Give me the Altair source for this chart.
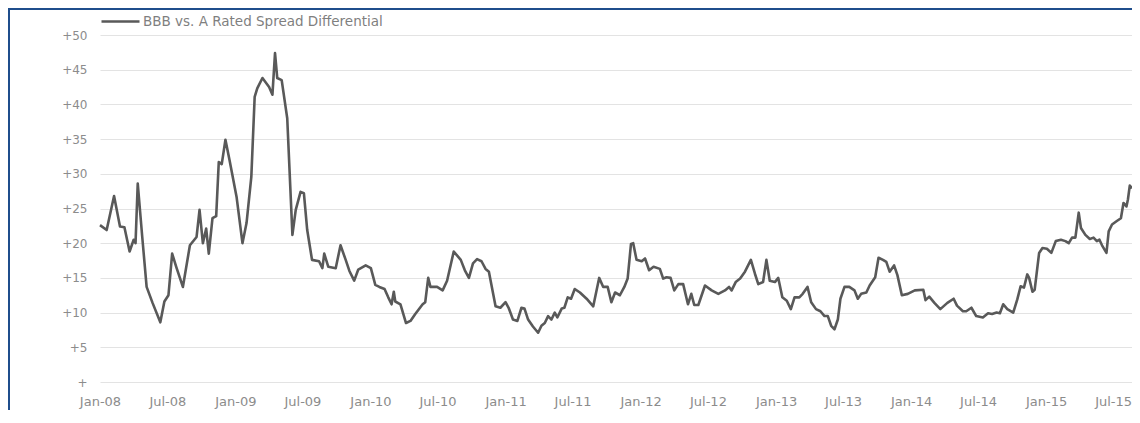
import altair as alt
import pandas as pd

series_name = "BBB vs. A Rated Spread Differential"

dates = [
    "2008-01-01", "2008-01-19", "2008-02-08", "2008-02-24", "2008-03-07", "2008-03-21", "2008-04-01", "2008-04-06",
    "2008-04-12", "2008-04-24", "2008-05-06", "2008-05-22", "2008-06-12", "2008-06-23", "2008-07-04", "2008-07-14",
    "2008-07-25", "2008-08-12", "2008-08-31", "2008-09-18", "2008-09-26", "2008-10-05", "2008-10-14", "2008-10-21",
    "2008-10-31", "2008-11-10", "2008-11-17", "2008-11-25", "2008-12-05", "2008-12-16",
    "2009-01-04", "2009-01-20", "2009-01-31", "2009-02-13", "2009-02-22", "2009-03-01", "2009-03-15", "2009-04-02",
    "2009-04-11", "2009-04-18", "2009-04-24", "2009-05-06", "2009-05-21", "2009-06-04", "2009-06-13", "2009-06-26",
    "2009-07-05", "2009-07-14", "2009-07-27", "2009-08-15", "2009-08-24", "2009-08-29", "2009-09-09", "2009-09-29",
    "2009-10-12", "2009-10-26", "2009-11-05", "2009-11-18", "2009-11-29", "2009-12-19",
    "2010-01-02", "2010-01-14", "2010-01-25", "2010-02-08", "2010-02-18", "2010-02-27", "2010-03-05", "2010-03-09",
    "2010-03-23", "2010-04-07", "2010-04-19", "2010-05-02", "2010-05-22", "2010-05-29", "2010-06-06", "2010-06-12",
    "2010-06-30", "2010-07-15", "2010-07-27", "2010-08-14", "2010-09-02", "2010-09-13", "2010-09-24", "2010-10-05",
    "2010-10-16", "2010-10-28", "2010-11-08", "2010-11-17", "2010-12-05", "2010-12-18",
    "2011-01-01", "2011-01-10", "2011-01-21", "2011-02-02", "2011-02-13", "2011-02-21", "2011-03-03", "2011-03-16",
    "2011-03-30", "2011-04-08", "2011-04-17", "2011-04-26", "2011-05-05", "2011-05-14", "2011-05-21", "2011-06-02",
    "2011-06-09", "2011-06-18", "2011-06-27", "2011-07-07", "2011-07-21", "2011-08-08", "2011-08-26", "2011-09-11",
    "2011-09-22", "2011-10-04", "2011-10-14", "2011-10-24", "2011-11-06", "2011-11-18", "2011-11-27", "2011-12-06",
    "2011-12-12", "2011-12-21",
    "2012-01-04", "2012-01-13", "2012-01-24", "2012-02-05", "2012-02-22", "2012-03-02", "2012-03-11", "2012-03-22",
    "2012-04-01", "2012-04-12", "2012-04-25", "2012-05-08", "2012-05-17", "2012-05-25", "2012-06-05", "2012-06-23",
    "2012-07-11", "2012-07-29", "2012-08-16", "2012-08-27", "2012-09-03", "2012-09-14", "2012-09-26", "2012-10-09",
    "2012-10-25", "2012-11-05", "2012-11-14", "2012-11-27", "2012-12-06", "2012-12-15", "2012-12-29",
    "2013-01-07", "2013-01-18", "2013-01-30", "2013-02-10", "2013-02-20", "2013-03-05", "2013-03-14", "2013-03-27",
    "2013-04-06", "2013-04-19", "2013-05-01", "2013-05-12", "2013-05-21", "2013-05-30", "2013-06-08", "2013-06-17",
    "2013-06-24", "2013-07-05", "2013-07-18", "2013-08-01", "2013-08-10", "2013-08-19", "2013-09-02", "2013-09-11",
    "2013-09-26", "2013-10-05", "2013-10-17", "2013-10-26", "2013-11-04", "2013-11-16", "2013-11-25", "2013-12-07",
    "2013-12-23",
    "2014-01-11", "2014-02-03", "2014-02-09", "2014-02-19", "2014-03-05", "2014-03-21", "2014-04-09", "2014-04-26",
    "2014-05-05", "2014-05-21", "2014-05-30", "2014-06-13", "2014-06-26", "2014-07-14", "2014-07-28", "2014-08-08",
    "2014-08-20", "2014-08-29", "2014-09-07", "2014-09-18", "2014-10-04", "2014-10-15", "2014-10-24", "2014-11-02",
    "2014-11-11", "2014-11-16", "2014-11-25", "2014-12-01", "2014-12-13", "2014-12-22",
    "2015-01-03", "2015-01-15", "2015-01-27", "2015-02-10", "2015-02-22", "2015-03-03", "2015-03-12", "2015-03-21",
    "2015-03-30", "2015-04-05", "2015-04-17", "2015-04-29", "2015-05-09", "2015-05-18", "2015-05-25", "2015-06-01",
    "2015-06-13", "2015-06-19", "2015-06-28", "2015-07-11", "2015-07-22", "2015-07-29", "2015-08-06", "2015-08-10",
    "2015-08-15", "2015-08-21",
]

spread = [
    22.6, 21.9, 26.8, 22.4, 22.3, 18.8, 20.5, 20.0,
    28.6, 21.0, 13.7, 11.4, 8.6, 11.6, 12.5, 18.5,
    16.6, 13.7, 19.7, 20.9, 24.8, 20.0, 22.1, 18.5,
    23.6, 23.9, 31.7, 31.4, 34.9, 32.0,
    26.7, 20.0, 22.9, 29.6, 41.1, 42.3, 43.8, 42.5,
    41.4, 47.4, 43.8, 43.5, 38.0, 21.2, 24.8, 27.4,
    27.2, 21.9, 17.6, 17.4, 16.4, 18.5, 16.6, 16.4,
    19.7, 17.6, 16.0, 14.6, 16.2, 16.8,
    16.4, 14.0, 13.7, 13.4, 12.2, 11.2, 13.0, 11.6,
    11.2, 8.5, 8.8, 9.8, 11.2, 11.5, 15.0, 13.7,
    13.7, 13.2, 14.6, 18.8, 17.6, 16.1, 15.0, 17.1,
    17.7, 17.4, 16.3, 15.9, 10.9, 10.7,
    11.5, 10.6, 9.0, 8.8, 10.7, 10.6, 9.0, 8.0,
    7.1, 8.1, 8.5, 9.5, 9.0, 10.0, 9.3, 10.6,
    10.7, 12.2, 12.0, 13.4, 12.9, 12.0, 10.9, 15.0,
    13.7, 13.7, 11.5, 12.9, 12.5, 13.7, 14.9, 19.9,
    20.0, 17.6,
    17.4, 17.8, 16.1, 16.6, 16.3, 14.9, 15.1, 15.0,
    13.2, 14.1, 14.1, 11.2, 12.7, 11.1, 11.1, 13.9,
    13.2, 12.7, 13.2, 13.7, 13.2, 14.4, 14.9, 15.9,
    17.6, 15.6, 14.1, 14.4, 17.6, 14.6, 14.4,
    15.0, 12.2, 11.7, 10.5, 12.2, 12.2, 12.7, 13.7,
    11.5, 10.5, 10.2, 9.5, 9.5, 8.1, 7.6, 9.0,
    12.0, 13.7, 13.7, 13.2, 12.0, 12.7, 12.9, 13.9,
    15.1, 17.9, 17.6, 17.3, 15.9, 16.8, 15.4, 12.5,
    12.7,
    13.2, 13.3, 11.8, 12.3, 11.4, 10.5, 11.4, 12.0,
    11.0, 10.2, 10.2, 10.7, 9.5, 9.3, 9.9, 9.8,
    10.0, 9.9, 11.2, 10.5, 10.0, 11.9, 13.8, 13.6,
    15.5, 15.0, 13.0, 13.3, 18.6, 19.3,
    19.2, 18.6, 20.3, 20.5, 20.3, 20.0, 20.8, 20.8,
    24.4, 22.2, 21.2, 20.6, 20.8, 20.3, 20.5, 19.7,
    18.6, 21.7, 22.7, 23.2, 23.6, 25.8, 25.3, 26.3,
    28.3, 27.9,
]

x_tick_dates = [
    "2008-01-01", "2008-07-01", "2009-01-01", "2009-07-01", "2010-01-01", "2010-07-01",
    "2011-01-01", "2011-07-01", "2012-01-01", "2012-07-01", "2013-01-01", "2013-07-01",
    "2014-01-01", "2014-07-01", "2015-01-01", "2015-07-01",
]
y_ticks = [0, 5, 10, 15, 20, 25, 30, 35, 40, 45, 50]
x_domain_dates = ["2008-01-01", "2015-08-21"]


def to_ms(s):
    return int(pd.Timestamp(s, tz="UTC").timestamp() * 1000)


df = pd.DataFrame({"date": dates, "spread": spread, "series": series_name})

FONT = "DejaVu Sans"
LABEL_COLOR = "#8c8c8c"

line = alt.Chart(df).mark_line(strokeWidth=2.6, strokeJoin="round").encode(
    x=alt.X(
        "date:T",
        scale=alt.Scale(type="utc", domain=[to_ms(d) for d in x_domain_dates], nice=False),
        axis=alt.Axis(
            title=None,
            values=[to_ms(d) for d in x_tick_dates],
            labelExpr="utcFormat(datum.value, '%b-%y')",
            domain=False,
            ticks=False,
            tickSize=0,
            grid=False,
            labelPadding=13,
            labelFlush=False,
            labelAlign="center",
            labelFont=FONT,
            labelFontSize=13,
            labelColor=LABEL_COLOR,
            labelOverlap=False,
        ),
    ),
    y=alt.Y(
        "spread:Q",
        scale=alt.Scale(domain=[0, 50], nice=False, zero=True),
        axis=alt.Axis(
            title=None,
            values=y_ticks,
            labelExpr="datum.value == 0 ? '+' : '+' + datum.value",
            domain=False,
            ticks=False,
            tickSize=0,
            grid=True,
            gridColor="#e3e3e3",
            gridWidth=1,
            labelPadding=13,
            labelFont=FONT,
            labelFontSize=12,
            labelColor=LABEL_COLOR,
        ),
    ),
    color=alt.Color(
        "series:N",
        scale=alt.Scale(range=["#595959"]),
        legend=alt.Legend(
            title=None,
            orient="none",
            legendX=0,
            legendY=-34,
            symbolType="stroke",
            symbolSize=1444,
            symbolStrokeWidth=2.6,
            labelFont=FONT,
            labelFontSize=13.5,
            labelColor="#7f7f7f",
            labelLimit=500,
            labelOffset=2,
            padding=0,
        ),
    ),
)

frame_df = pd.DataFrame({"k": [0]})
left_border = alt.Chart(frame_df).mark_rule(color="#1f4e8c", strokeWidth=2).encode(
    x=alt.value(-91), y=alt.value(-27), y2=alt.value(400)
)
top_border = alt.Chart(frame_df).mark_rule(color="#1f4e8c", strokeWidth=2).encode(
    y=alt.value(-26), x=alt.value(-92), x2=alt.value(1040)
)

chart = (
    alt.layer(line, left_border, top_border)
    .properties(
        width=1032,
        height=347,
        autosize=alt.AutoSizeParams(type="none"),
        padding={"left": 92, "top": 27, "right": 0, "bottom": 28},
        background="white",
    )
    .configure_view(stroke=None)
)

chart.save("out.html", embed_options={"renderer": "svg", "actions": False})
